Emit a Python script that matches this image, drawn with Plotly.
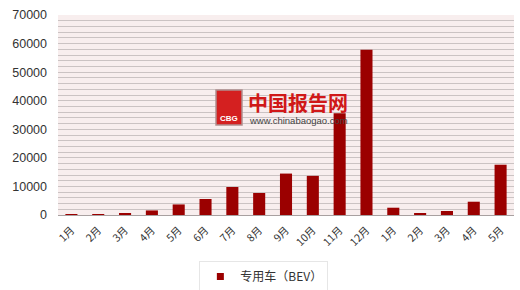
import plotly.graph_objects as go

categories = ["1月", "2月", "3月", "4月", "5月", "6月", "7月", "8月", "9月", "10月",
              "11月", "12月", "1月 ", "2月 ", "3月 ", "4月 ", "5月 "]
values = [30, 30, 500, 1600, 3700, 5600, 9800, 7700, 14500, 13700,
          35600, 57800, 2550, 450, 1400, 4650, 17600]
series_name = "专用车（BEV）"
y_ticks = [0, 10000, 20000, 30000, 40000, 50000, 60000, 70000]
bar_color = "#9b0000"

fig = go.Figure()
fig.add_trace(go.Bar(
    x=list(range(len(categories))), y=values, name=series_name,
    marker=dict(color=bar_color, line=dict(width=0)),
    showlegend=False,
))
fig.add_trace(go.Scatter(
    x=[None], y=[None], mode="markers", name=series_name,
    marker=dict(symbol="square", size=7, color=bar_color),
    showlegend=True,
))

fig.update_layout(
    width=520, height=290,
    margin=dict(l=58, r=6, t=15, b=75, autoexpand=False),
    paper_bgcolor="white",
    plot_bgcolor="#f8eeee",
    bargap=0.55,
    font=dict(family="Liberation Sans, Noto Sans CJK SC", size=11, color="#333333"),
    xaxis=dict(
        tickmode="array", tickvals=list(range(len(categories))),
        ticktext=[c.strip() for c in categories],
        tickangle=-45, range=[-0.5, len(categories) - 0.5],
        showgrid=False, zeroline=False, showline=False, ticks="",
        ticklabelstandoff=6, automargin=False,
        tickfont=dict(family="Noto Sans CJK SC", size=10.5, color="#333333"),
    ),
    yaxis=dict(
        range=[0, 70000], tickmode="array", tickvals=y_ticks,
        ticktext=[str(v) for v in y_ticks],
        showgrid=True, gridcolor="#cbc3c3", gridwidth=1.2,
        zeroline=True, zerolinecolor="#a8a0a0", zerolinewidth=1,
        showline=False, ticks="", ticklabelstandoff=10, automargin=False,
        tickfont=dict(size=12.5, color="#333333"),
        minor=dict(dtick=2000, showgrid=True, gridcolor="#cbc3c3", gridwidth=1.2, ticks=""),
    ),
    legend=dict(
        x=0.31, y=-0.23, xanchor="left", yanchor="top",
        orientation="h", bgcolor="white",
        bordercolor="#e6e6e6", borderwidth=1,
        font=dict(family="Noto Sans CJK SC", size=12, color="#333333"),
        itemwidth=30,
    ),
)

# watermark
fig.add_shape(type="rect", xref="paper", yref="paper",
              x0=(216 - 58) / 456, x1=(242 - 58) / 456,
              y0=(215 - 125) / 200, y1=(215 - 90) / 200,
              fillcolor="#d42020", line=dict(color="#b09090", width=1.5), layer="above")
fig.add_annotation(xref="paper", yref="paper", x=(229 - 58) / 456, y=(215 - 118) / 200,
                   text="<b>CBG</b>", showarrow=False,
                   font=dict(family="Liberation Sans", size=8, color="white"))
fig.add_annotation(xref="paper", yref="paper", x=(246 - 58) / 456, y=(215 - 102) / 200,
                   xanchor="left", text="<b>中国报告网</b>", showarrow=False,
                   font=dict(family="Noto Sans CJK SC", size=20, color="#d01818"))
fig.add_annotation(xref="paper", yref="paper", x=(247 - 58) / 456, y=(215 - 120) / 200,
                   xanchor="left", text="www.chinabaogao.com", showarrow=False,
                   font=dict(family="Liberation Sans", size=9.5, color="#444444"))

fig.write_html("out.html")
